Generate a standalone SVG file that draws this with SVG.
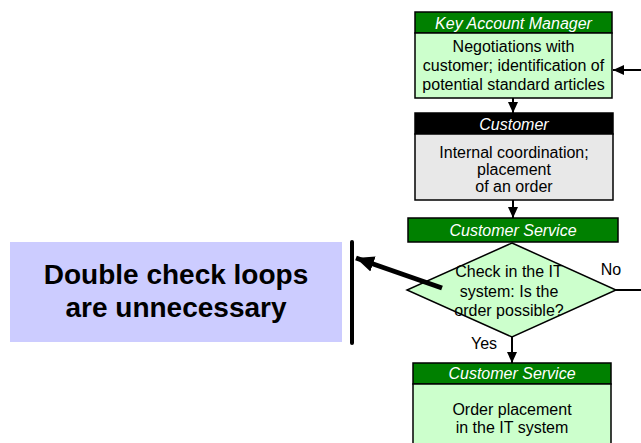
<svg xmlns="http://www.w3.org/2000/svg" width="641" height="443" viewBox="0 0 641 443">
<style>
.hdr{fill:#008000;stroke:#000;stroke-width:1.5}
.hdrk{fill:#000;stroke:#000;stroke-width:1.5}
.body{fill:#ccffcc;stroke:#000;stroke-width:1.5}
.bodyg{fill:#e8e8e8;stroke:#000;stroke-width:1.5}
.ht{font-family:"Liberation Sans",Arial,sans-serif;font-size:16px;font-style:italic;fill:#fff;text-anchor:middle}
.bt{font-family:"Liberation Sans",Arial,sans-serif;font-size:16px;fill:#000;text-anchor:middle}
.lbl{font-family:"Liberation Sans",Arial,sans-serif;font-size:16px;fill:#000;text-anchor:middle}
.big{font-family:"Liberation Sans",Arial,sans-serif;font-size:28px;font-weight:bold;fill:#000;text-anchor:middle}
.conn{stroke:#000;stroke-width:2;fill:none}
</style>
<defs>
<marker id="ah" markerUnits="userSpaceOnUse" markerWidth="12" markerHeight="12" viewBox="0 0 12 12" refX="11" refY="6" orient="auto">
<path d="M0,1 L11,6 L0,11 Z" fill="#000"/>
</marker>
<marker id="ahb" markerUnits="userSpaceOnUse" markerWidth="20" markerHeight="20" viewBox="0 0 20 20" refX="18" refY="10" orient="auto">
<path d="M0,2 L18,10 L0,18 Z" fill="#000"/>
</marker>
</defs>

<g id="note">
<rect x="10" y="242" width="332" height="100" fill="#ccccff"/>
<text class="big" x="176" y="284">Double check loops</text>
<text class="big" x="176" y="317">are unnecessary</text>
</g>

<g id="kam">
<rect class="hdr" x="415" y="12" width="197" height="21"/>
<text class="ht" x="513.5" y="28.5">Key Account Manager</text>
<rect class="body" x="415" y="33" width="197" height="65"/>
<text class="bt" x="513.5" y="52">Negotiations with</text>
<text class="bt" x="513.5" y="71">customer; identification of</text>
<text class="bt" x="513.5" y="90">potential standard articles</text>
</g>

<g id="customer">
<rect class="hdrk" x="415" y="113" width="198" height="21"/>
<text class="ht" x="514" y="130">Customer</text>
<rect class="bodyg" x="415" y="134" width="198" height="66"/>
<text class="bt" x="514" y="158">Internal coordination;</text>
<text class="bt" x="514" y="175">placement</text>
<text class="bt" x="514" y="192">of an order</text>
</g>

<g id="check">
<rect class="hdr" x="408" y="218" width="210" height="24"/>
<text class="ht" x="513" y="236">Customer Service</text>
<polygon class="body" points="512,243 616,290 512,337 407,290"/>
<text class="bt" x="509" y="277">Check in the IT</text>
<text class="bt" x="509" y="297">system: Is the</text>
<text class="bt" x="509" y="316">order possible?</text>
</g>

<g id="placement">
<rect class="hdr" x="413" y="363" width="198" height="21"/>
<text class="ht" x="512" y="379">Customer Service</text>
<rect class="body" x="413" y="384" width="198" height="70"/>
<text class="bt" x="512" y="415">Order placement</text>
<text class="bt" x="512" y="433">in the IT system</text>
</g>

<g id="barrier">
<line x1="352" y1="242" x2="352" y2="343" stroke="#000" stroke-width="4" stroke-linecap="round"/>
</g>

<g id="connectors">
<line class="conn" x1="641" y1="70" x2="613" y2="70" marker-end="url(#ah)"/>
<line class="conn" x1="513" y1="98" x2="513" y2="113" marker-end="url(#ah)"/>
<line class="conn" x1="513" y1="200" x2="513" y2="218" marker-end="url(#ah)"/>
<line class="conn" x1="616" y1="290" x2="641" y2="290"/>
<line class="conn" x1="512" y1="337" x2="512" y2="363" marker-end="url(#ah)"/>
<line x1="442" y1="288" x2="356" y2="258" stroke="#000" stroke-width="5" marker-end="url(#ahb)"/>
<text class="lbl" x="611" y="275">No</text>
<text class="lbl" x="484" y="349">Yes</text>
</g>
</svg>
